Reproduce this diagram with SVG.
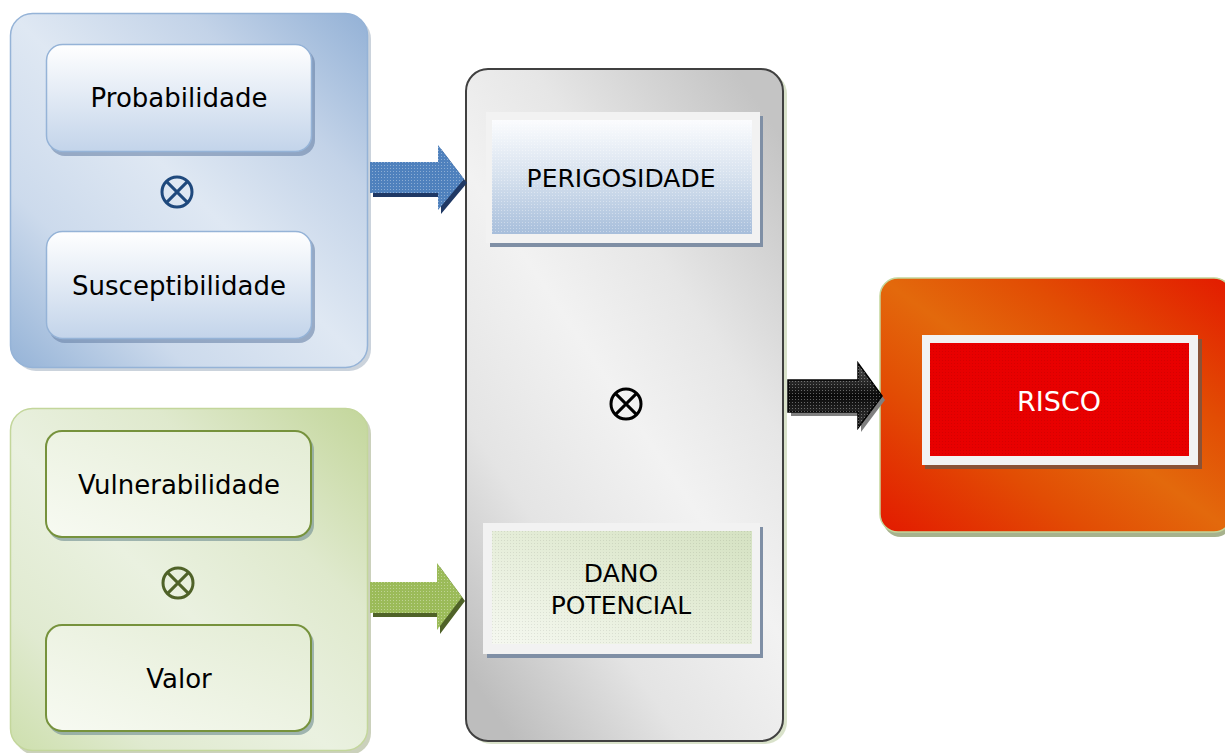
<svg xmlns="http://www.w3.org/2000/svg" width="1225" height="753" viewBox="0 0 1225 753">
<defs>
  <linearGradient id="gBlueOuterR" x1="1" y1="0" x2="0" y2="1">
    <stop offset="0" stop-color="#93b1d6"/>
    <stop offset="0.25" stop-color="#c3d3e8"/>
    <stop offset="0.5" stop-color="#dfe8f3"/>
    <stop offset="0.75" stop-color="#ccdaec"/>
    <stop offset="1" stop-color="#95b3d7"/>
  </linearGradient>
  <linearGradient id="gBlueInner" x1="0" y1="0" x2="0" y2="1">
    <stop offset="0" stop-color="#ffffff"/>
    <stop offset="1" stop-color="#c3d4ea"/>
  </linearGradient>
  <linearGradient id="gGreenOuter" x1="1" y1="0" x2="0" y2="1">
    <stop offset="0" stop-color="#c3d69b"/>
    <stop offset="0.3" stop-color="#dfe9cd"/>
    <stop offset="0.55" stop-color="#eaf1e0"/>
    <stop offset="0.8" stop-color="#e0ead0"/>
    <stop offset="1" stop-color="#cddfad"/>
  </linearGradient>
  <linearGradient id="gGreenInner" x1="0" y1="1" x2="1" y2="0">
    <stop offset="0" stop-color="#f7faf2"/>
    <stop offset="1" stop-color="#e3ecd4"/>
  </linearGradient>
  <linearGradient id="gGray" x1="0.85" y1="0" x2="0.15" y2="1">
    <stop offset="0" stop-color="#c4c4c4"/>
    <stop offset="0.3" stop-color="#e6e6e6"/>
    <stop offset="0.5" stop-color="#f2f2f2"/>
    <stop offset="0.75" stop-color="#e4e4e4"/>
    <stop offset="1" stop-color="#bdbdbd"/>
  </linearGradient>
  <linearGradient id="gPeri" x1="0" y1="0" x2="0" y2="1">
    <stop offset="0" stop-color="#fbfcfe"/>
    <stop offset="0.5" stop-color="#d6e1ee"/>
    <stop offset="1" stop-color="#a7bedb"/>
  </linearGradient>
  <linearGradient id="gDano" x1="0" y1="1" x2="1" y2="0">
    <stop offset="0" stop-color="#f5f8f0"/>
    <stop offset="0.6" stop-color="#e2ebd4"/>
    <stop offset="1" stop-color="#d5e2c2"/>
  </linearGradient>
  <linearGradient id="gOrange" x1="0" y1="1" x2="1" y2="0">
    <stop offset="0" stop-color="#e31a00"/>
    <stop offset="0.3" stop-color="#e24d04"/>
    <stop offset="0.5" stop-color="#e3690c"/>
    <stop offset="0.7" stop-color="#e24d04"/>
    <stop offset="1" stop-color="#e31a00"/>
  </linearGradient>
  <linearGradient id="gBlack" x1="0" y1="0" x2="0" y2="1">
    <stop offset="0" stop-color="#555555"/>
    <stop offset="0.5" stop-color="#0a0a0a"/>
    <stop offset="1" stop-color="#3a3a3a"/>
  </linearGradient>
  <pattern id="dots" width="3" height="3" patternUnits="userSpaceOnUse">
    <rect x="0" y="0" width="1" height="1" fill="#ffffff" fill-opacity="0.35"/>
  </pattern>
  <pattern id="dotsDark" width="3" height="3" patternUnits="userSpaceOnUse">
    <rect x="0" y="0" width="1" height="1" fill="#000000" fill-opacity="0.08"/>
  </pattern>
</defs>
<style>
  .lbl { font-family: "DejaVu Sans", "Liberation Sans", sans-serif; font-size: 26px; fill: #000; text-anchor: middle; }
  .cap { font-family: "DejaVu Sans", "Liberation Sans", sans-serif; font-size: 25px; fill: #000; text-anchor: middle; }
  .otimes { fill: none; stroke-width: 3; }
</style>

<!-- Blue group -->
<g id="blue-group">
  <rect x="14" y="17" width="357" height="354" rx="22" fill="#a9b6c5" fill-opacity="0.6"/>
  <rect x="10.5" y="13.5" width="357" height="354" rx="22" fill="url(#gBlueOuterR)" stroke="#95b3d7" stroke-width="1.5"/>
</g>
<g id="probabilidade">
  <rect x="49" y="48" width="266" height="108" rx="16" fill="#6a84a8" fill-opacity="0.6"/>
  <rect x="46.5" y="44.5" width="265" height="107" rx="16" fill="url(#gBlueInner)" stroke="#95b3d7" stroke-width="1.5"/>
  <text class="lbl" x="179" y="107">Probabilidade</text>
</g>
<g id="otimes-blue">
  <circle cx="177" cy="192" r="15" class="otimes" stroke="#1f497d"/>
  <path d="M166.4,181.4 L187.6,202.6 M187.6,181.4 L166.4,202.6" class="otimes" stroke="#1f497d"/>
</g>
<g id="susceptibilidade">
  <rect x="49" y="235" width="266" height="108" rx="16" fill="#6a84a8" fill-opacity="0.6"/>
  <rect x="46.5" y="231.5" width="265" height="107" rx="16" fill="url(#gBlueInner)" stroke="#95b3d7" stroke-width="1.5"/>
  <text class="lbl" x="179" y="295">Susceptibilidade</text>
</g>

<!-- Green group -->
<g id="green-group">
  <rect x="14" y="412" width="357" height="343" rx="22" fill="#a8b28f" fill-opacity="0.6"/>
  <rect x="10.5" y="408.5" width="357" height="342" rx="22" fill="url(#gGreenOuter)" stroke="#c3d69b" stroke-width="1.5"/>
</g>
<g id="vulnerabilidade">
  <rect x="48" y="434" width="266" height="107" rx="16" fill="#7f9a9a" fill-opacity="0.7"/>
  <rect x="46" y="431" width="265" height="106" rx="16" fill="url(#gGreenInner)" stroke="#76923c" stroke-width="2"/>
  <text class="lbl" x="179" y="494">Vulnerabilidade</text>
</g>
<g id="otimes-green">
  <circle cx="178" cy="583" r="15" class="otimes" stroke="#4f6228"/>
  <path d="M167.4,572.4 L188.6,593.6 M188.6,572.4 L167.4,593.6" class="otimes" stroke="#4f6228"/>
</g>
<g id="valor">
  <rect x="48" y="628" width="266" height="107" rx="16" fill="#7f9a9a" fill-opacity="0.7"/>
  <rect x="46" y="625" width="265" height="106" rx="16" fill="url(#gGreenInner)" stroke="#76923c" stroke-width="2"/>
  <text class="lbl" x="179" y="688">Valor</text>
</g>

<!-- Center gray box -->
<g id="center-box">
  <rect x="469" y="72" width="318" height="672" rx="22" fill="#c9d6b3" fill-opacity="0.7"/>
  <rect x="466" y="69" width="317" height="672" rx="22" fill="url(#gGray)" stroke="#404040" stroke-width="2"/>
</g>
<g id="perigosidade">
  <rect x="490" y="116" width="273" height="131" fill="#7f8fa5"/>
  <rect x="486" y="112" width="274" height="131" fill="#f2f2f2"/>
  <rect x="492" y="120" width="260" height="114" fill="url(#gPeri)"/>
  <rect x="492" y="120" width="260" height="114" fill="url(#dots)"/>
  <text class="cap" x="621" y="187">PERIGOSIDADE</text>
</g>
<g id="otimes-center">
  <circle cx="626" cy="404" r="15" class="otimes" stroke="#000"/>
  <path d="M615.4,393.4 L636.6,414.6 M636.6,393.4 L615.4,414.6" class="otimes" stroke="#000"/>
</g>
<g id="dano-potencial">
  <rect x="487" y="527" width="276" height="131" fill="#7f8fa5"/>
  <rect x="483" y="523" width="277" height="131" fill="#f2f2f2"/>
  <rect x="492" y="531" width="260" height="113" fill="url(#gDano)"/>
  <rect x="492" y="531" width="260" height="113" fill="url(#dotsDark)"/>
  <text class="cap" x="621" y="582">DANO</text>
  <text class="cap" x="621" y="614">POTENCIAL</text>
</g>

<!-- Risco -->
<g id="risco-group">
  <rect x="883" y="282" width="350" height="255" rx="18" fill="#a7b28d"/>
  <rect x="880" y="278" width="352" height="254" rx="18" fill="url(#gOrange)" stroke="#c3d69b" stroke-width="1.5"/>
</g>
<g id="risco">
  <rect x="925" y="339" width="277" height="130" fill="#8a5236"/>
  <rect x="922" y="335" width="276" height="130" fill="#f2f2f2"/>
  <rect x="930" y="343" width="259" height="113" fill="#e80000"/>
  <rect x="930" y="343" width="259" height="113" fill="url(#dotsDark)"/>
  <text class="cap" x="1059" y="411" style="fill:#ffffff;font-size:27px">RISCO</text>
</g>

<!-- Connectors -->
<g id="connectors">
  <path d="M373,166 H441 V149 L467,183 L441,214 V197 H373 Z" fill="#1f3864"/>
  <path d="M370,162 H438 V145 L464,179 L438,210 V193 H370 Z" fill="#4f81bd"/>
  <path d="M370,162 H438 V145 L464,179 L438,210 V193 H370 Z" fill="url(#dots)"/>

  <path d="M373,586 H440 V567 L465,601 L440,634 V617 H373 Z" fill="#4f6228"/>
  <path d="M370,582 H437 V563 L462,597 L437,630 V613 H370 Z" fill="#9bbb59"/>
  <path d="M370,582 H437 V563 L462,597 L437,630 V613 H370 Z" fill="url(#dots)"/>

  <path d="M791,384 H861 V367 L885,400 L861,432 V416 H791 Z" fill="#7f7f7f"/>
  <path d="M788,380 H858 V363 L882,396 L858,428 V412 H788 Z" fill="url(#gBlack)" stroke="#000" stroke-width="1.5"/>
  <path d="M788,380 H858 V363 L882,396 L858,428 V412 H788 Z" fill="url(#dots)"/>
</g>
</svg>
